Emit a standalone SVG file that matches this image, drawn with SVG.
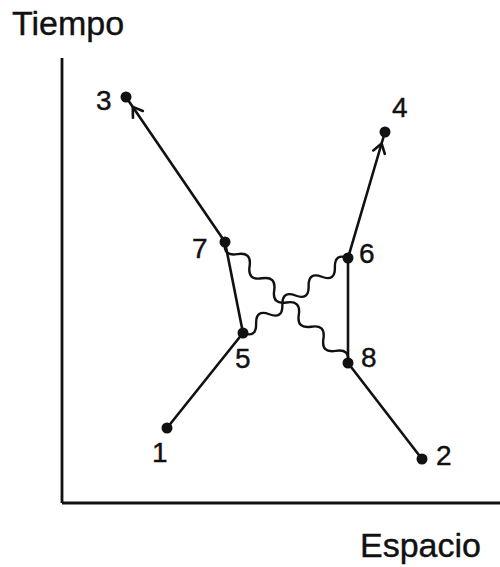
<svg xmlns="http://www.w3.org/2000/svg" width="500" height="567" viewBox="0 0 500 567">
<style>
.ln{stroke:#111;stroke-width:2.6;fill:none;stroke-linecap:round}
.wv{stroke:#111;stroke-width:2.4;fill:none}
.ax{stroke:#111;stroke-width:2.8;fill:none}
.dot{fill:#111}
.lbl{font-family:"Liberation Sans",Arial,sans-serif;font-size:28px;fill:#111;stroke:#111;stroke-width:0.4}
.axl{font-family:"Liberation Sans",Arial,sans-serif;font-size:34px;fill:#111;stroke:#111;stroke-width:0.4}
</style>
<defs>
<marker id="arr" markerUnits="userSpaceOnUse" orient="auto" overflow="visible" markerWidth="1" markerHeight="1">
<path d="M -9 -6 L 0 0 L -9 6" stroke="#111" stroke-width="2.6" fill="none" stroke-linecap="round"/>
</marker>
</defs>
<g id="axes">
<line class="ax" x1="62" y1="58" x2="62" y2="503"/>
<line class="ax" x1="62" y1="503" x2="500" y2="503"/>
<text class="axl" x="12" y="35">Tiempo</text>
<text class="axl" x="360" y="557">Espacio</text>
</g>
<g id="connectors">
<line class="ln" x1="167" y1="428" x2="243" y2="333"/>
<line class="ln" x1="243" y1="333" x2="225" y2="242"/>
<path class="ln" d="M 225 242 L 132.8 106.9 L 126 97" marker-mid="url(#arr)"/>
<line class="ln" x1="422" y1="459" x2="348" y2="363"/>
<line class="ln" x1="348" y1="363" x2="348" y2="258"/>
<path class="ln" d="M 348 258 L 381.6 143.5 L 385 132" marker-mid="url(#arr)"/>
<path class="wv" d="M 225 242 Q 222.75 256.6 237.3 254.1 T 249.6 266.2 T 261.9 278.3 T 274.2 290.4 T 286.5 302.5 T 298.8 314.6 T 311.1 326.7 T 323.4 338.8 T 335.7 350.9 T 348 363"/>
<path class="wv" d="M 243 333 Q 256.5 338.1 256.125 323.625 T 269.25 314.25 T 282.375 304.875 T 295.5 295.5 T 308.625 286.125 T 321.75 276.75 T 334.875 267.375 T 348 258"/>
</g>
<g id="n1"><circle class="dot" cx="167" cy="428" r="5.5"/><text class="lbl" x="152" y="462">1</text></g>
<g id="n2"><circle class="dot" cx="422" cy="459" r="5.5"/><text class="lbl" x="436" y="465">2</text></g>
<g id="n3"><circle class="dot" cx="126" cy="97" r="5.5"/><text class="lbl" x="96" y="110">3</text></g>
<g id="n4"><circle class="dot" cx="385" cy="132" r="5.5"/><text class="lbl" x="392" y="117">4</text></g>
<g id="n5"><circle class="dot" cx="243" cy="333" r="5.5"/><text class="lbl" x="235" y="368">5</text></g>
<g id="n6"><circle class="dot" cx="348" cy="258" r="5.5"/><text class="lbl" x="359" y="263">6</text></g>
<g id="n7"><circle class="dot" cx="225" cy="242" r="5.5"/><text class="lbl" x="192" y="258">7</text></g>
<g id="n8"><circle class="dot" cx="348" cy="363" r="5.5"/><text class="lbl" x="361" y="367">8</text></g>
</svg>
